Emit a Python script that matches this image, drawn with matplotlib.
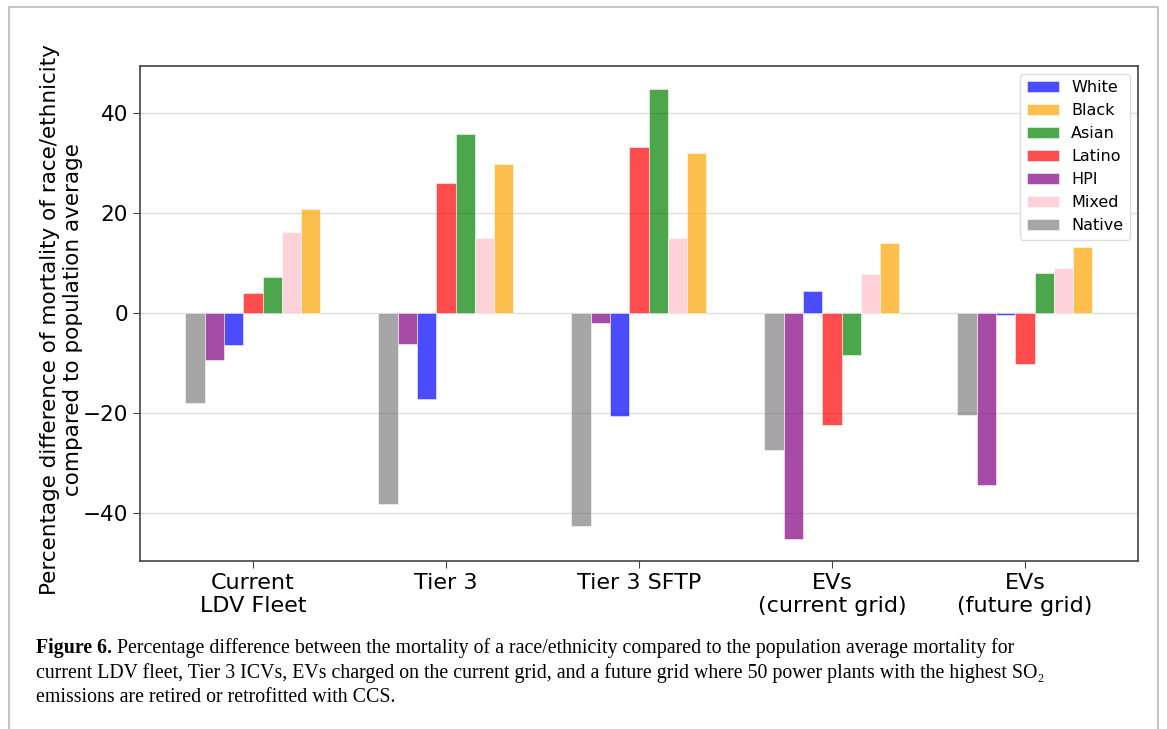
import numpy as np
import matplotlib.pyplot as plt
from matplotlib.lines import Line2D

# scenarios on the x axis
scenarios = ['Current\nLDV Fleet', 'Tier 3', 'Tier 3 SFTP', 'EVs\n(current grid)', 'EVs\n(future grid)']

# percentage difference vs population average, per group
white = [-6.5, -17.3, -20.6, 4.5, -0.5]
black = [20.9, 29.9, 32.1, 14.1, 13.3]
asian = [7.2, 35.8, 44.8, -8.4, 8.1]
latino = [4.1, 26.0, 33.2, -22.4, -10.3]
hpi = [-9.5, -6.2, -2.1, -45.2, -34.5]
mixed = [16.2, 15.0, 15.1, 7.9, 9.0]
native = [-18.1, -38.3, -42.6, -27.4, -20.5]

groups = ['White', 'Black', 'Asian', 'Latino', 'HPI', 'Mixed', 'Native']
values = [white, black, asian, latino, hpi, mixed, native]
colors = ['blue', 'orange', 'green', 'red', 'purple', 'pink', 'gray']
# slot of each group inside a cluster (left to right)
slots = [-1, 3, 1, 0, -2, 2, -3]

fig = plt.figure(figsize=(11.67, 7.29), dpi=100)
ax = fig.add_axes([0.12, 0.2305, 0.855, 0.679])

x = np.arange(len(scenarios))
width = 0.1
for name, vals, col, s in zip(groups, values, colors, slots):
    ax.bar(x + s * width, vals, width, color=col, alpha=0.7, label=name,
           edgecolor='white', linewidth=0.5, zorder=3)

ax.set_ylim(-49.7, 49.5)
ax.set_yticks([-40, -20, 0, 20, 40])
ax.set_xticks(x)
ax.set_xticklabels(scenarios)
ax.tick_params(length=5, color='#444444')
ax.tick_params(axis='x', labelsize=16)
ax.tick_params(axis='y', labelsize=15.5)
ax.grid(axis='y', color='#dddddd', linewidth=1, zorder=0)
for sp in ax.spines.values():
    sp.set_color('#444444')
    sp.set_linewidth(1.2)

ax.set_ylabel('Percentage difference of mortality of race/ethnicity\ncompared to population average',
              fontsize=15.5)
ax.yaxis.set_label_coords(-0.057, 0.487)

ax.legend(loc='upper right', fontsize=11.5, framealpha=1, edgecolor='#dddddd')

# caption under the chart
cap_font = 'Liberation Serif'
cap_size = 14.3
y1 = 1 - 653 / 729
t = fig.text(36 / 1167, y1, 'Figure 6.', fontsize=cap_size, family=cap_font,
             fontweight='bold', va='baseline')
fig.canvas.draw()
bb = t.get_window_extent()
fig.text(bb.x1 / fig.bbox.width + 5 / 1167, y1,
         'Percentage difference between the mortality of a race/ethnicity compared to the population average mortality for',
         fontsize=cap_size, family=cap_font, va='baseline')
fig.text(36 / 1167, 1 - 678 / 729,
         'current LDV fleet, Tier 3 ICVs, EVs charged on the current grid, and a future grid where 50 power plants with the highest SO\u2082',
         fontsize=cap_size, family=cap_font, va='baseline')
fig.text(36 / 1167, 1 - 702 / 729, 'emissions are retired or retrofitted with CCS.',
         fontsize=cap_size, family=cap_font, va='baseline')

# page frame
fx0, fx1, fy = 8.5 / 1167, 1158 / 1167, 1 - 6.5 / 729
fig.add_artist(Line2D([fx0, fx0, fx1, fx1], [0, fy, fy, 0], color='#c4c4c4',
                      linewidth=1.5, transform=fig.transFigure))

fig.savefig('out.png', dpi=100)
